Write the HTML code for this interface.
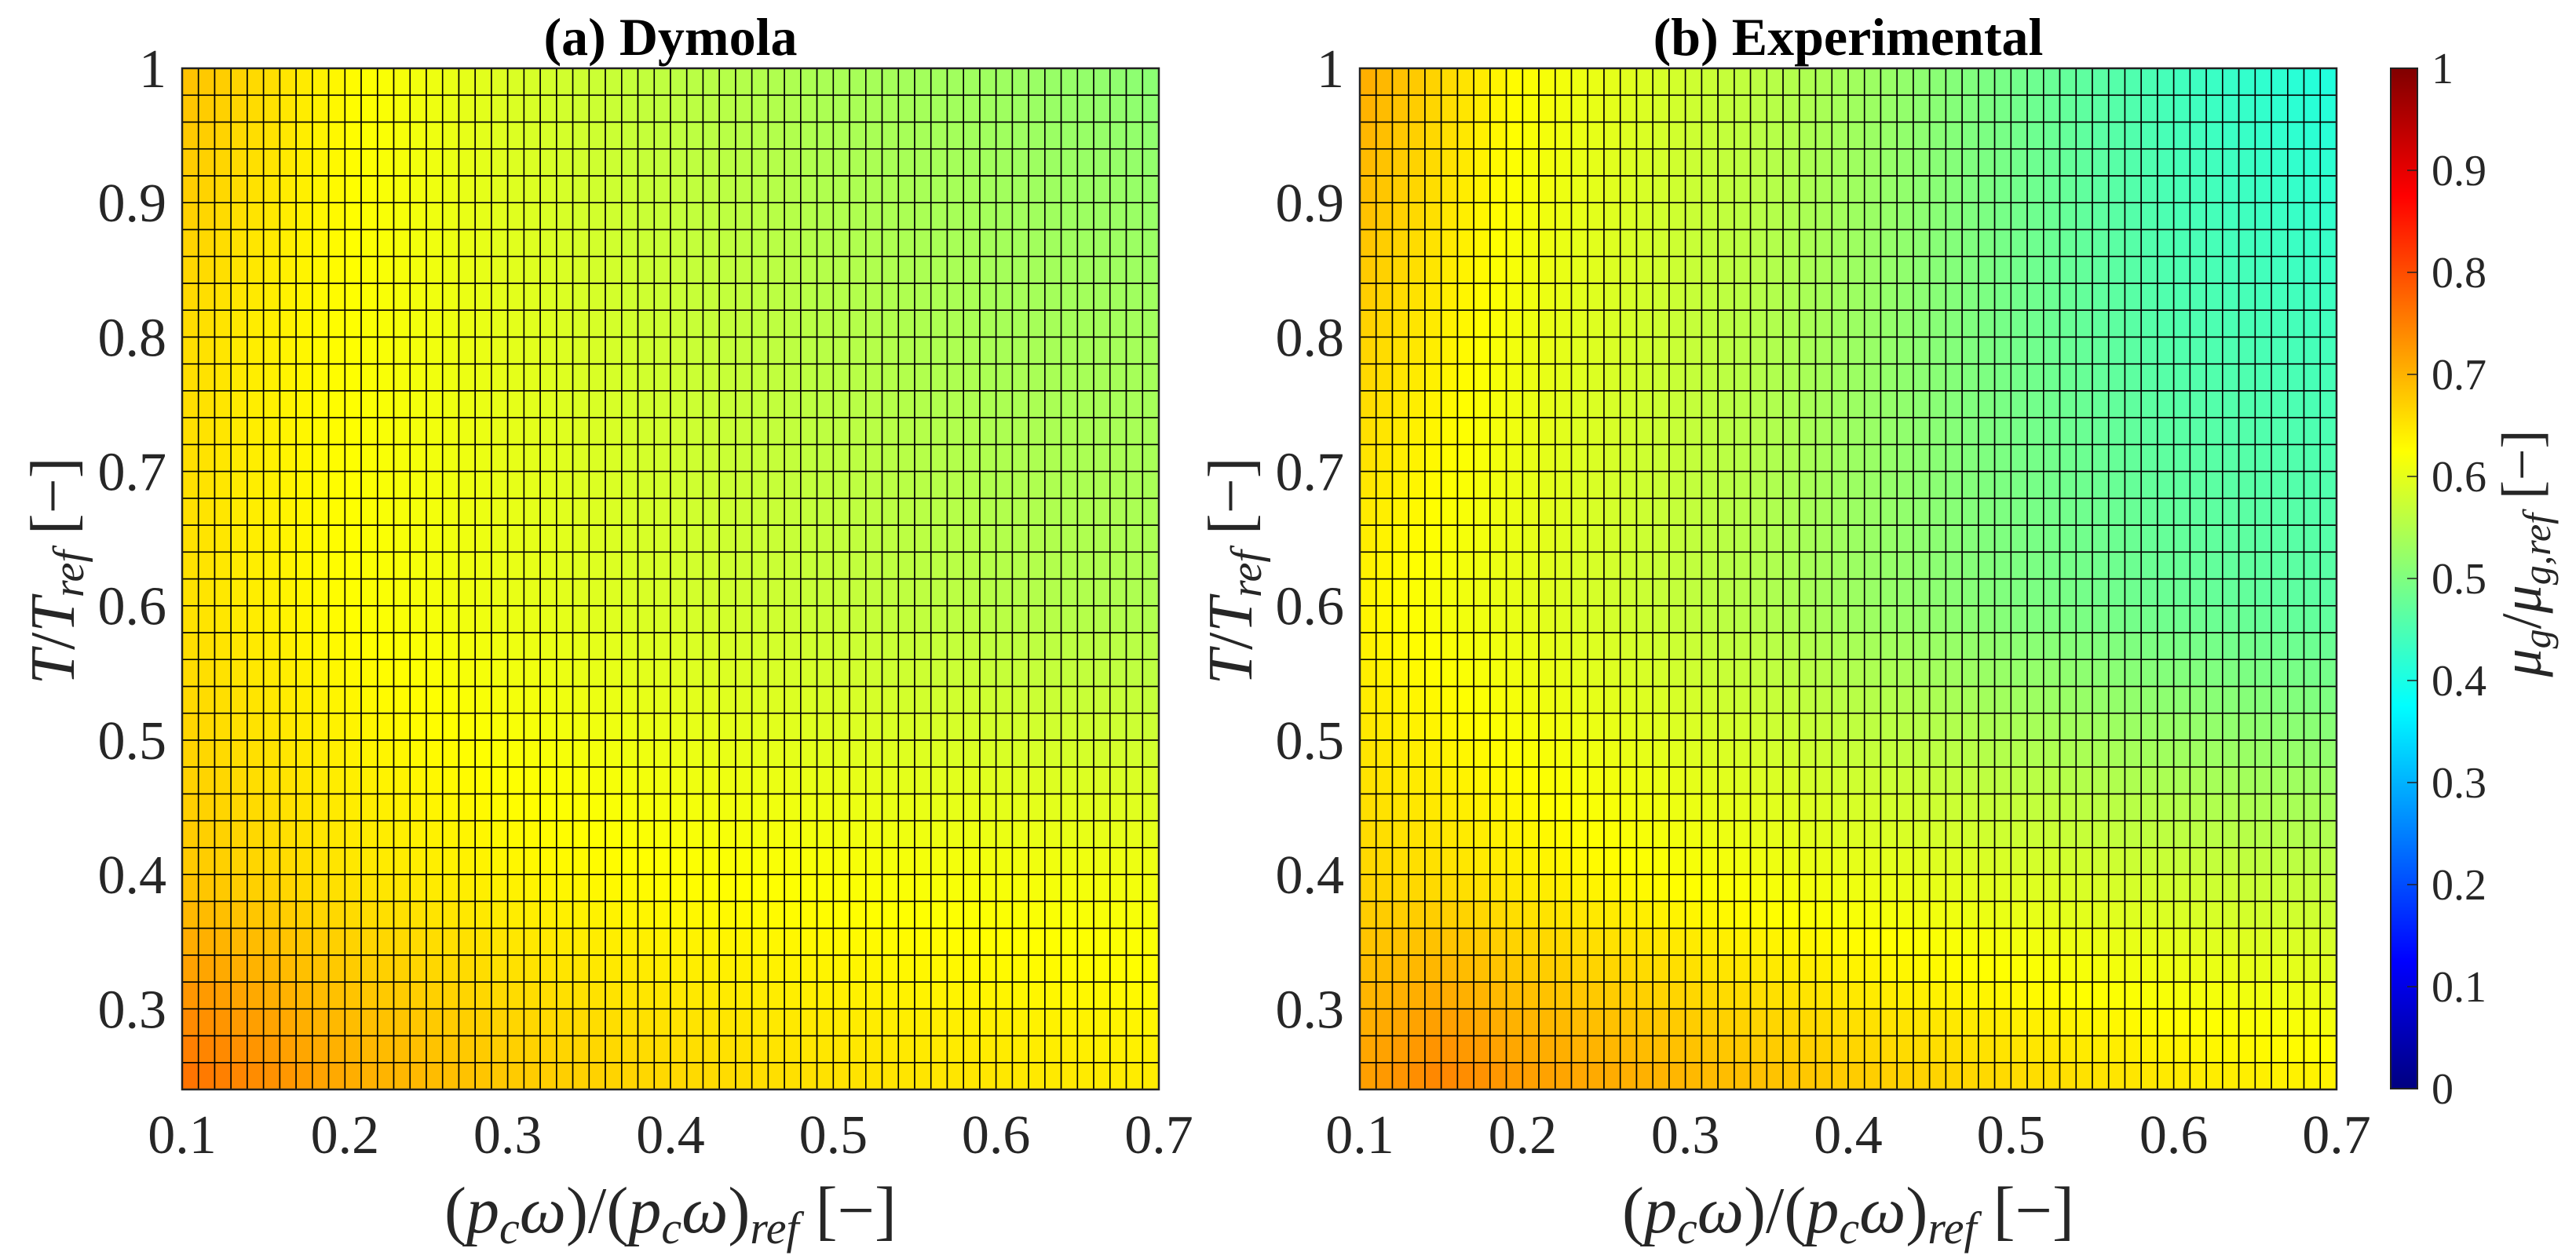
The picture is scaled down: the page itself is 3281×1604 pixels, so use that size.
<!DOCTYPE html>
<html><head><meta charset="utf-8"><style>
html,body{margin:0;padding:0;background:#fff;}
svg{display:block;font-family:"Liberation Serif",serif;}
</style></head><body>
<svg id="fig" width="3281" height="1604" viewBox="0 0 3281 1604" xmlns="http://www.w3.org/2000/svg">
<defs>
<linearGradient id="jet" x1="0" y1="1" x2="0" y2="0">
<stop offset="0" stop-color="#000080"/><stop offset="0.125" stop-color="#0000ff"/>
<stop offset="0.375" stop-color="#00ffff"/><stop offset="0.625" stop-color="#ffff00"/>
<stop offset="0.875" stop-color="#ff0000"/><stop offset="1" stop-color="#800000"/>
</linearGradient>
</defs>
<g id="panelA"></g>
<g id="panelB"></g>
<g id="cbar"></g>
</svg>
<script>
// coarse values (rows: y anchors, cols: x anchors)
const xAnchors = [0.1, 0.15, 0.2, 0.3, 0.4, 0.5, 0.6, 0.7];
const yAnchors = [0.24, 0.4, 0.6, 0.8, 1.0];
const dymolaValues = [
  [0.77, 0.74, 0.71, 0.68, 0.665, 0.655, 0.65, 0.645],
  [0.68, 0.665, 0.65, 0.635, 0.625, 0.62, 0.615, 0.61],
  [0.655, 0.64, 0.625, 0.605, 0.585, 0.57, 0.555, 0.545],
  [0.66, 0.64, 0.625, 0.60, 0.575, 0.555, 0.54, 0.535],
  [0.6875, 0.66, 0.63, 0.59, 0.56, 0.54, 0.53, 0.51]
];
const experimentalValues = [
  [0.72, 0.75, 0.725, 0.70, 0.68, 0.665, 0.65, 0.64],
  [0.665, 0.655, 0.64, 0.62, 0.605, 0.59, 0.575, 0.56],
  [0.635, 0.615, 0.60, 0.565, 0.53, 0.50, 0.48, 0.465],
  [0.67, 0.64, 0.61, 0.57, 0.53, 0.49, 0.455, 0.44],
  [0.71, 0.665, 0.625, 0.58, 0.535, 0.49, 0.44, 0.405]
];
const xTicks = [0.1, 0.2, 0.3, 0.4, 0.5, 0.6, 0.7];
const xTickLabels = ["0.1","0.2","0.3","0.4","0.5","0.6","0.7"];
const yTicks = [0.3, 0.4, 0.5, 0.6, 0.7, 0.8, 0.9, 1];
const yTickLabels = ["0.3","0.4","0.5","0.6","0.7","0.8","0.9","1"];
const cTicks = [0,0.1,0.2,0.3,0.4,0.5,0.6,0.7,0.8,0.9,1];
const cTickLabels = ["0","0.1","0.2","0.3","0.4","0.5","0.6","0.7","0.8","0.9","1"];

const NS = "http://www.w3.org/2000/svg";
const XMIN=0.1, XMAX=0.7, YMIN=0.24, YMAX=1.0, NX=60, NY=38;
const TOP=87, BOT=1388;

function mk(tag, attrs, parent){
  const e=document.createElementNS(NS,tag);
  for(const k in attrs) e.setAttribute(k,attrs[k]);
  parent.appendChild(e); return e;
}
function jet(v){
  const c=t=>Math.max(0,Math.min(1,t));
  const r=c(1.5-Math.abs(4*v-3)), g=c(1.5-Math.abs(4*v-2)), b=c(1.5-Math.abs(4*v-1));
  return `rgb(${Math.round(r*255)},${Math.round(g*255)},${Math.round(b*255)})`;
}
function locate(arr,v){
  let i=0; while(i<arr.length-2 && v>arr[i+1]) i++;
  const t=(v-arr[i])/(arr[i+1]-arr[i]); return [i,Math.max(0,Math.min(1,t))];
}
function sample(M,x,y){
  const [i,tx]=locate(xAnchors,x), [j,ty]=locate(yAnchors,y);
  const a=M[j][i]*(1-tx)+M[j][i+1]*tx, b=M[j+1][i]*(1-tx)+M[j+1][i+1]*tx;
  return a*(1-ty)+b*ty;
}
function drawPanel(gid, left, right, M, title){
  const g=document.getElementById(gid);
  const sx=x=>left+(x-XMIN)/(XMAX-XMIN)*(right-left);
  const sy=y=>BOT-(y-YMIN)/(YMAX-YMIN)*(BOT-TOP);
  const cells=mk('g',{},g);
  
  
  const dx=(XMAX-XMIN)/NX, dy=(YMAX-YMIN)/NY;
  for(let j=0;j<NY;j++){
    for(let i=0;i<NX;i++){
      const x0=XMIN+i*dx, y0=YMIN+j*dy;
      const v=sample(M,x0+dx/2,y0+dy/2);
      const r=mk('rect',{x:sx(x0),y:sy(y0+dy),width:sx(x0+dx)-sx(x0),height:sy(y0)-sy(y0+dy),fill:jet(v),stroke:'#000','stroke-width':1.6},cells);
      
      
    }
  }
  const frame=mk('rect',{x:left,y:TOP,width:right-left,height:BOT-TOP,fill:'none',stroke:'#222','stroke-width':2.5},g);
  
  
  xTicks.forEach((t,k)=>{
    const tx=mk('text',{x:sx(t),y:1469,'font-size':70,'text-anchor':'middle',fill:'#262626'},g);
    tx.textContent=xTickLabels[k];
    
    
  });
  yTicks.forEach((t,k)=>{
    const ty=mk('text',{x:left-20,y:sy(t)+24,'font-size':70,'text-anchor':'end',fill:'#262626'},g);
    ty.textContent=yTickLabels[k];
    
    
  });
  const cx=(left+right)/2;
  const tt=mk('text',{x:cx,y:70,'font-size':68,'font-weight':'bold','text-anchor':'middle',fill:'#000'},g);
  tt.textContent=title;
  
  
  const xl=mk('text',{x:cx,y:1570,'font-size':84,'text-anchor':'middle',fill:'#262626'},g);
  xl.innerHTML='(<tspan font-style="italic">p</tspan><tspan font-style="italic" font-size="58" dy="14">c</tspan><tspan font-style="italic" dy="-14">ω</tspan>)/(<tspan font-style="italic">p</tspan><tspan font-style="italic" font-size="58" dy="14">c</tspan><tspan font-style="italic" dy="-14">ω</tspan>)<tspan font-style="italic" font-size="58" dy="14">ref</tspan><tspan dy="-14"> [−]</tspan>';
  
  
  const yl=mk('text',{x:0,y:0,'font-size':80,'text-anchor':'middle',fill:'#262626',transform:`translate(${left-138},${(TOP+BOT)/2 - 10}) rotate(-90)`},g);
  yl.innerHTML='<tspan font-style="italic">T</tspan>/<tspan font-style="italic">T</tspan><tspan font-style="italic" font-size="56" dy="12">ref</tspan><tspan dy="-12">  [−]</tspan>';
  
  
}
drawPanel('panelA',232,1476,dymolaValues,'(a) Dymola');
drawPanel('panelB',1732,2976,experimentalValues,'(b) Experimental');

(function(){
  const g=document.getElementById('cbar');
  const L=3045,R=3079;
  const cy=v=>BOT-1-v*(BOT-1-TOP);
  const bar=mk('rect',{x:L,y:TOP,width:R-L,height:BOT-1-TOP,fill:'url(#jet)',stroke:'#222','stroke-width':2},g);
  
  
  cTicks.forEach((t,k)=>{
    const ln=mk('line',{x1:R-13,x2:R,y1:cy(t),y2:cy(t),stroke:'#222','stroke-width':1.5},g);
    
    
    const tx=mk('text',{x:3097,y:cy(t)+19,'font-size':56,fill:'#262626'},g);
    tx.textContent=cTickLabels[k];
    
    
  });
  const lb=mk('text',{x:0,y:0,'font-size':72,'text-anchor':'middle',fill:'#262626',transform:`translate(3236,705) rotate(-90)`},g);
  lb.innerHTML='<tspan font-style="italic">μ</tspan><tspan font-style="italic" font-size="50" dy="12">g</tspan><tspan dy="-12">/</tspan><tspan font-style="italic">μ</tspan><tspan font-style="italic" font-size="50" dy="12">g,ref</tspan><tspan dy="-12">  [−]</tspan>';
  
  
})();
</script>
</body></html>
